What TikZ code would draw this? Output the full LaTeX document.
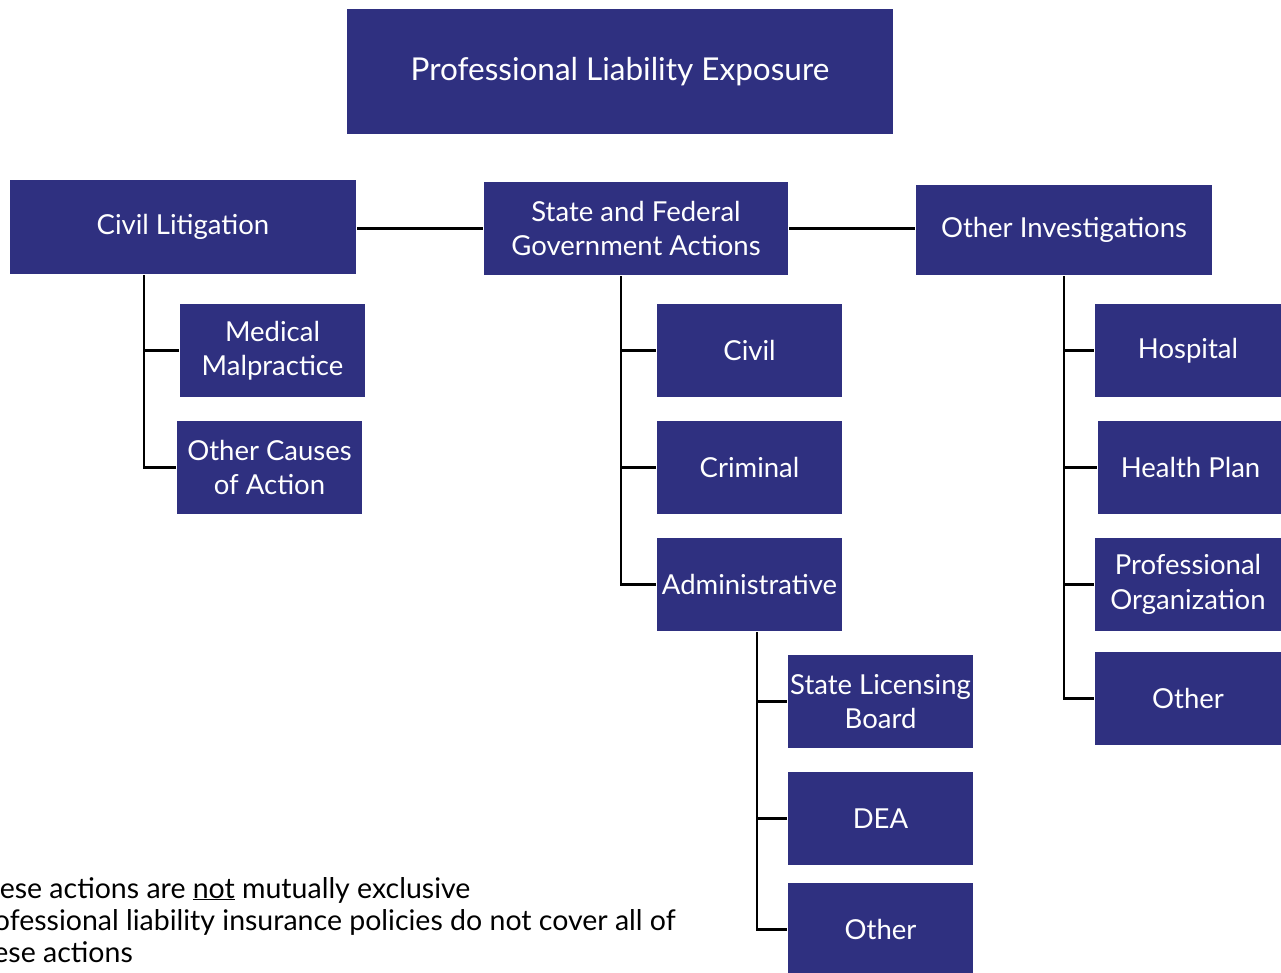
\documentclass[tikz,border=0pt]{standalone}
\usepackage{fontspec}
\setmainfont{Lato}
\usetikzlibrary{positioning}
\definecolor{navy}{HTML}{2F3080}
\tikzstyle{every node}+=[font=\fontsize{27.5}{34.5}\selectfont]
\tikzstyle{every path}+=[line width=2.5]
\tikzstyle{box}=[fill=navy,text=white,align=center,inner sep=0pt,minimum width=185,minimum height=93]
\newcommand{\drawbranches}[2]{
	\foreach \b in {#2}{
		\draw (#1) |- (\b.west);
	}
}

\begin{document}
\begin{tikzpicture}[x=1pt,y=-1pt]
	\useasboundingbox (0,0) rectangle (1281,973);
	% top level
	\node[box,minimum width=546,minimum height=125,font=\fontsize{31.5}{38}\selectfont] (exposure) at (620,71.5) {Professional Liability Exposure};
	\node[box,minimum width=346,minimum height=94] (civlit) at (183,227) {Civil Litigation};
	\node[box,minimum width=304] (govt) at (636,228.5) {State and Federal\\Government Actions};
	\node[box,minimum width=296,minimum height=90] (otherinv) at (1064,230) {Other Investigations};
	% civil litigation
	\node[box] (medmal) at (272.5,350.5) {Medical\\Malpractice};
	\node[box] (causes) at (269.5,467.5) {Other Causes\\of Action};
	% government actions
	\node[box] (civil) at (749.5,350.5) {Civil};
	\node[box] (criminal) at (749.5,467.5) {Criminal};
	\node[box] (admin) at (749.5,584.5) {Administrative};
	\node[box] (licensing) at (880.5,701.5) {State Licensing\\Board};
	\node[box] (dea) at (880.5,818.5) {DEA};
	\node[box] (otheradmin) at (880.5,929.5) {Other};
	% other investigations
	\node[box,minimum width=186] (hospital) at (1188,350.5) {Hospital};
	\node[box] (healthplan) at (1190.5,467.5) {Health Plan};
	\node[box,minimum width=186] (proforg) at (1188,584.5) {Professional\\Organization};
	\node[box,minimum width=186] (otherorg) at (1188,698.5) {Other};
	% note
	\node[anchor=base west,align=left,inner sep=0pt,font=\fontsize{28.5}{32}\selectfont] (note) at (-34,962) {These actions are \underline{not} mutually exclusive\\Professional liability insurance policies do not cover all of\\these actions};

	\draw (govt.west -| civlit.east) -- (govt.west);
	\draw (govt.east) -- (govt.east -| otherinv.west);
	\coordinate (cltrunk) at ([xshift=-39]civlit.south);
	\coordinate (gvtrunk) at ([xshift=-15]govt.south);
	\coordinate (adtrunk) at ([xshift=7.5]admin.south);
	\coordinate (oitrunk) at (otherinv.south);
	\drawbranches{cltrunk}{medmal,causes};
	\drawbranches{gvtrunk}{civil,criminal,admin};
	\drawbranches{adtrunk}{licensing,dea,otheradmin};
	\drawbranches{oitrunk}{hospital,healthplan,proforg,otherorg};
\end{tikzpicture}
\end{document}
